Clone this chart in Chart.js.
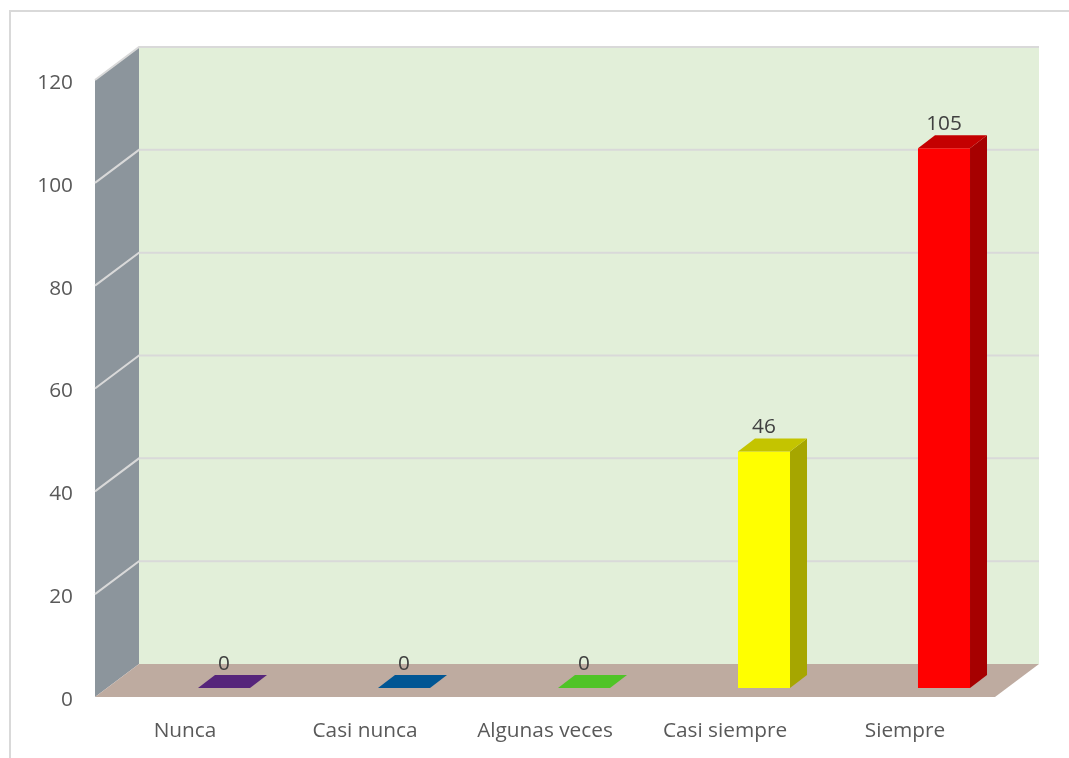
<!DOCTYPE html>
<html>
<head>
<meta charset="utf-8">
<style>
  html, body { margin: 0; background: #fff; overflow: hidden; }
  #frame { position: absolute; left: 9px; top: 10px; width: 1060px; height: 748px; border-left: 2px solid #d9d9d9; border-top: 2px solid #d9d9d9; box-sizing: border-box; }
  canvas { position: absolute; left: 0; top: 0; }
</style>
<script src="https://cdn.jsdelivr.net/npm/chart.js@4"></script>
</head>
<body>
<div id="frame"></div>
<canvas id="respuestasChart" width="1069" height="758"></canvas>
<script>
const categories = ["Nunca", "Casi nunca", "Algunas veces", "Casi siempre", "Siempre"];
const values = [0, 0, 0, 46, 105];
const barColors = ["#7030A0", "#0070C0", "#66FF33", "#FFFF00", "#FF0000"];

// 3D look: how far the back wall sits from the front plane, and the bars on the floor
const wallDepth = { x: 44, y: -33 };
const barDepth = { x: 17, y: -13 };
const barShift = { x: 39, y: -9 };

function shade(hex, k) {
  const n = parseInt(hex.slice(1), 16);
  return `rgb(${Math.round((n >> 16) * k)},${Math.round(((n >> 8) & 255) * k)},${Math.round((n & 255) * k)})`;
}

function poly(ctx, pts, fill) {
  ctx.beginPath();
  pts.forEach((p, i) => i ? ctx.lineTo(p[0], p[1]) : ctx.moveTo(p[0], p[1]));
  ctx.closePath();
  ctx.fillStyle = fill;
  ctx.fill();
}

// side wall, back wall, floor and grid lines
const walls = {
  id: "walls",
  beforeDatasetsDraw(chart) {
    const { ctx, chartArea: a, scales: { y } } = chart;
    const dx = wallDepth.x, dy = wallDepth.y;
    poly(ctx, [[a.left + dx, a.top + dy], [a.right + dx, a.top + dy], [a.right + dx, a.bottom + dy], [a.left + dx, a.bottom + dy]], "#E2EFD9");
    poly(ctx, [[a.left, a.top], [a.left + dx, a.top + dy], [a.left + dx, a.bottom + dy], [a.left, a.bottom]], "#8C959C");
    poly(ctx, [[a.left, a.bottom], [a.right, a.bottom], [a.right + dx, a.bottom + dy], [a.left + dx, a.bottom + dy]], "#BEABA0");
    ctx.save();
    ctx.strokeStyle = "#D9D9D9";
    ctx.lineWidth = 2;
    y.ticks.forEach(t => {
      if (t.value === 0) return;
      const py = y.getPixelForValue(t.value);
      ctx.beginPath();
      ctx.moveTo(a.left, py);
      ctx.lineTo(a.left + dx, py + dy);
      ctx.lineTo(a.right + dx, py + dy);
      ctx.stroke();
    });
    ctx.restore();
  },
  // the bars stand a little way back on the floor
  beforeDatasetDraw(chart) {
    chart.ctx.save();
    chart.ctx.translate(barShift.x, barShift.y);
  },
  afterDatasetDraw(chart, args) {
    const ctx = chart.ctx;
    const dx = barDepth.x, dy = barDepth.y;
    args.meta.data.forEach((bar, i) => {
      const l = bar.x - bar.width / 2, r = bar.x + bar.width / 2;
      const top = bar.y, base = bar.base;
      const color = barColors[i];
      if (top < base) {
        poly(ctx, [[r, top], [r + dx, top + dy], [r + dx, base + dy], [r, base]], shade(color, 0.65));
      }
      poly(ctx, [[l, top], [r, top], [r + dx, top + dy], [l + dx, top + dy]], shade(color, 0.77));
      ctx.fillStyle = "#404040";
      ctx.font = '20.8px "Open Sans"';
      ctx.textAlign = "center";
      ctx.textBaseline = "middle";
      ctx.fillText(values[i], bar.x, top - 24);
    });
    ctx.restore();
  }
};

new Chart(document.getElementById("respuestasChart"), {
  type: "bar",
  data: {
    labels: categories,
    datasets: [{
      data: values,
      backgroundColor: barColors,
      barPercentage: 0.289,
      categoryPercentage: 1
    }]
  },
  options: {
    responsive: false,
    animation: false,
    layout: { padding: { top: 80, right: 74 } },
    plugins: { legend: { display: false }, tooltip: { enabled: false } },
    scales: {
      x: {
        grid: { display: false },
        border: { display: false },
        ticks: { color: "#595959", font: { family: "Open Sans", size: 20.8 }, padding: 14, maxRotation: 0, autoSkip: false },
        afterFit: s => { s.height = 61; }
      },
      y: {
        min: 0,
        max: 120,
        grid: { display: false },
        border: { display: false },
        ticks: { stepSize: 20, color: "#595959", font: { family: "Open Sans", size: 20.8 }, padding: 14, labelOffset: 3 },
        afterFit: s => { s.width = 95; }
      }
    }
  },
  plugins: [walls]
});
</script>
</body>
</html>
